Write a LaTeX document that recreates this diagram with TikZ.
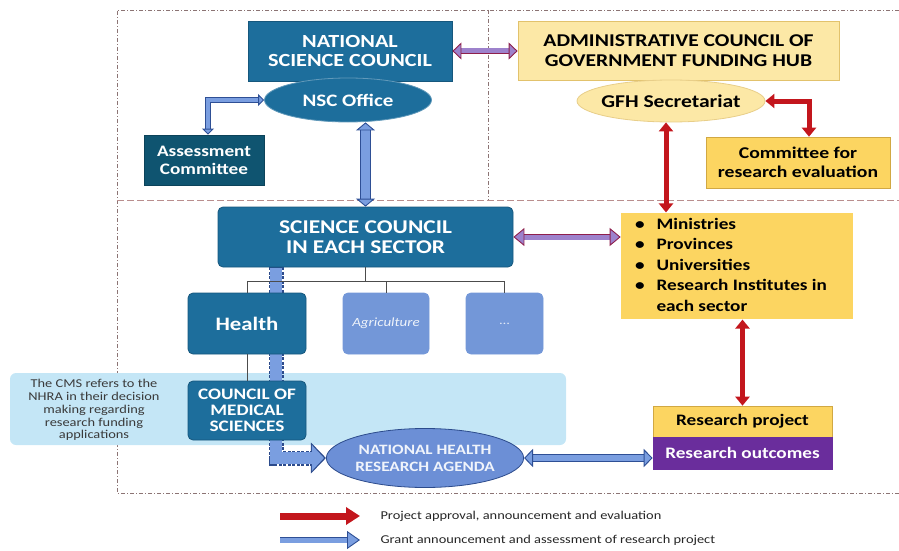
\documentclass[tikz,border=0pt]{standalone}
\usepackage{fontspec}
\setmainfont{Carlito}[FakeStretch=1.2]
\usetikzlibrary{arrows.meta,shapes.geometric,backgrounds,calc}
\definecolor{NSCBlue}{HTML}{1D6E9C}
\definecolor{NSCEdge}{HTML}{16577D}
\definecolor{AssessBlue}{HTML}{0F5470}
\definecolor{SoftBlue}{HTML}{7397D8}
\definecolor{BandBlue}{HTML}{C4E6F6}
\definecolor{AgendaBlue}{HTML}{6C8FD6}
\definecolor{AgendaEdge}{HTML}{2C4B8C}
\definecolor{PaleGold}{HTML}{FCE8A6}
\definecolor{PaleGoldEdge}{HTML}{E2C26C}
\definecolor{Gold}{HTML}{FCD561}
\definecolor{GoldEdge}{HTML}{D1A843}
\definecolor{OutcomePurple}{HTML}{6A2D9C}
\definecolor{ArrRed}{HTML}{C3161D}
\definecolor{ArrBlue}{HTML}{7A9EE0}
\definecolor{ArrBlueEdge}{HTML}{2E4F95}
\definecolor{ArrLav}{HTML}{9D82CC}
\definecolor{ArrMaroon}{HTML}{8E1F4C}
\definecolor{FrameGray}{HTML}{8C7474}
\definecolor{SplitRose}{HTML}{B98E8E}
\definecolor{NoteGray}{HTML}{3A3A3A}

\begin{document}
\begin{tikzpicture}[x=1pt,y=-1pt,
    bx/.style={draw=NSCEdge,fill=NSCBlue,text=white,line width=0.8pt,align=center,inner sep=2pt,font=\bfseries\fontsize{18.5}{19.5}\selectfont},
    yb/.style={draw=PaleGoldEdge,fill=PaleGold,text=black,line width=0.8pt,align=center,inner sep=2pt,font=\bfseries\fontsize{18}{19.5}\selectfont},
    gb/.style={draw=GoldEdge,fill=Gold,text=black,line width=0.6pt,align=center,inner sep=2pt,font=\bfseries\fontsize{16}{17}\selectfont},
    ov/.style={ellipse,inner sep=0pt,line width=0.8pt,align=center},
    tree/.style={draw=black!70,line width=0.9pt},
    bar/.style={draw=ArrBlueEdge,double=ArrBlue,line width=0.9pt},
    pbar/.style={draw=ArrMaroon,double=ArrLav,line width=0.9pt},
    rbar/.style={draw=ArrRed,line width=5pt}]
  \useasboundingbox (0,0) rectangle (899,551);

  % national level
  \node[bx,minimum width=204pt,minimum height=60pt] (nsc) at (350,51) {NATIONAL\\SCIENCE COUNCIL};
  \node[ov,draw=NSCBlue!70,fill=NSCBlue,text=white,minimum width=167pt,minimum height=44pt,font=\bfseries\fontsize{17.5}{18}\selectfont] (nscoff) at (348,100) {NSC Office};
  \node[bx,fill=AssessBlue,draw=AssessBlue!80!black,minimum width=120pt,minimum height=50pt,font=\bfseries\fontsize{16}{18}\selectfont] (assess) at (204,160) {Assessment\\Committee};
  \node[yb,minimum width=321pt,minimum height=59pt] (admin) at (678.5,50.5) {ADMINISTRATIVE COUNCIL OF\\GOVERNMENT FUNDING HUB};
  \node[ov,draw=PaleGoldEdge!80,fill=PaleGold,inner xsep=-6pt,minimum width=188pt,minimum height=42pt,font=\bfseries\fontsize{18}{18}\selectfont] (gfh) at (671,101) {GFH Secretariat};
  \node[gb,minimum width=184pt,minimum height=51pt,font=\bfseries\fontsize{16.4}{19}\selectfont] (cre) at (798,162.5) {Committee for\\research evaluation};

  % sector level
  \node[bx,rounded corners=5pt,minimum width=295pt,minimum height=60pt,font=\bfseries\fontsize{19.5}{20}\selectfont] (sc) at (365.5,237) {SCIENCE COUNCIL\\IN EACH SECTOR};
  \node[gb,draw=none,minimum width=232pt,minimum height=106pt,font=\bfseries\fontsize{16}{20.5}\selectfont] (min) at (737,266)
    {\begin{tabular}{@{}l@{\hspace{12pt}}l@{}}
      \textbullet & Ministries\\
      \textbullet & Provinces\\
      \textbullet & Universities\\
      \textbullet & Research Institutes in\\
                  & each sector
    \end{tabular}\hspace{12pt}};
  \node[bx,rounded corners=5pt,minimum width=118pt,minimum height=61pt,font=\bfseries\fontsize{19}{20}\selectfont] (health) at (247,323.5) {Health};
  \node[bx,draw=SoftBlue,fill=SoftBlue,rounded corners=5pt,minimum width=86pt,minimum height=61pt,text=white!88!SoftBlue,font=\itshape\fontsize{12.5}{13}\selectfont] (agri) at (386,323.5) {Agriculture};
  \node[bx,draw=SoftBlue,fill=SoftBlue,rounded corners=5pt,minimum width=77pt,minimum height=61pt,text=white!80!SoftBlue,font=\fontsize{12}{13}\selectfont] (dots) at (504.5,323.5) {\dots};
  \node[bx,rounded corners=5pt,minimum width=118pt,minimum height=59pt,font=\bfseries\fontsize{16}{16}\selectfont] (cms) at (247,410.5) {COUNCIL OF\\MEDICAL\\SCIENCES};
  \node[text=NoteGray,align=center,font=\fontsize{12}{12.8}\selectfont] (note) at (94,410) {The CMS refers to the\\NHRA in their decision\\making regarding\\research funding\\applications};
  \node[ov,draw=AgendaEdge,fill=AgendaBlue,text=white!90!AgendaBlue,minimum width=194pt,minimum height=59pt,font=\bfseries\fontsize{14.3}{17}\selectfont] (nhra) at (425,458) {NATIONAL HEALTH\\RESEARCH AGENDA};
  \node[gb,minimum width=179pt,minimum height=31pt] (rp) at (742.5,421.5) {Research project};
  \node[gb,draw=OutcomePurple,fill=OutcomePurple,text=white,minimum width=179pt,minimum height=32pt] (ro) at (742.5,453) {Research outcomes};

  % legend
  \coordinate (lr1) at (280,516);
  \coordinate (lr2) at (360,516);
  \coordinate (lb1) at (280,540);
  \coordinate (lb2) at (360,540);
  \node[anchor=west,text=black!85,font=\fontsize{12}{13}\selectfont] (lrt) at (377,516) {Project approval, announcement and evaluation};
  \node[anchor=west,text=black!85,font=\fontsize{12}{13}\selectfont] (lbt) at (377,540) {Grant announcement and assessment of research project};

  % frame, band and the dashed route go underneath
  \begin{scope}[on background layer]
    \draw[draw=FrameGray,line width=0.8pt,dash pattern=on 4pt off 2pt on 1pt off 2pt] (899,10) -- (117,10) -- (117,493) -- (899,493);
    \draw[draw=FrameGray,line width=0.8pt,dash pattern=on 4pt off 2pt on 1pt off 2pt] (488,10) -- (488,200);
    \draw[draw=SplitRose,line width=1pt,dash pattern=on 7pt off 3pt] (117,200) -- (899,200);
    \node[fill=BandBlue,rounded corners=6pt,minimum width=556pt,minimum height=72pt] (band) at (288,409) {};
    \draw[draw=AgendaEdge,line width=15pt,dash pattern=on 3pt off 1.5pt,-{Triangle[length=15pt,width=30pt]}] ([xshift=29pt]health.north |- sc.south) |- (nhra.west);
    \draw[draw=ArrBlue,line width=12pt,shorten >=2pt,-{Triangle[length=12pt,width=25pt]}] ([xshift=29pt,yshift=-1pt]health.north |- sc.south) |- (nhra.west);
  \end{scope}

  % sector tree
  \draw[tree] (sc.south) -- ++(0,14) coordinate (fork);
  \foreach \n in {health,agri,dots}{\draw[tree] (fork) -| (\n.north);}
  \draw[tree] (health.south) -- (cms.north);

  % grant route
  \draw[bar,double distance=4pt,{Triangle[length=6pt,width=12pt,fill=ArrBlue]}-{Triangle[length=6pt,width=12pt,fill=ArrBlue]}] (nscoff.west) -| ([xshift=4pt]assess.north);
  \draw[bar,double distance=9pt,{Triangle[length=8pt,width=19pt,fill=ArrBlue]}-{Triangle[length=8pt,width=19pt,fill=ArrBlue]}] (sc.north |- nscoff.south) -- (sc.north);
  \draw[bar,double distance=6pt,{Triangle[length=9pt,width=18pt,fill=ArrBlue]}-{Triangle[length=9pt,width=18pt,fill=ArrBlue]}] (nhra.east) -- (nhra.east -| ro.west);
  \draw[pbar,double distance=5pt,{Triangle[length=9pt,width=17pt,fill=ArrLav]}-{Triangle[length=9pt,width=17pt,fill=ArrLav]}] (nsc.east) -- (nsc.east -| admin.west);
  \draw[pbar,double distance=5pt,{Triangle[length=11pt,width=18pt,fill=ArrLav]}-{Triangle[length=11pt,width=18pt,fill=ArrLav]}] (sc.east) -- (sc.east -| min.west);

  % approval route
  \draw[rbar,{Triangle[length=9pt,width=14pt]}-{Triangle[length=9pt,width=14pt]}] (gfh.east) -| ([xshift=11pt]cre.north);
  \draw[rbar,{Triangle[length=9pt,width=14pt]}-{Triangle[length=9pt,width=14pt]}] ([xshift=-5pt]gfh.south) -- ([xshift=-5pt]gfh.south |- min.north);
  \draw[rbar,{Triangle[length=9pt,width=14pt]}-{Triangle[length=9pt,width=14pt]}] (rp.north |- min.south) -- (rp.north);

  % legend arrows
  \draw[draw=ArrRed,line width=7pt,-{Triangle[length=14pt,width=17pt]}] (lr1) -- (lr2);
  \draw[bar,double distance=5pt,-{Triangle[length=13pt,width=18pt,fill=ArrBlue]}] (lb1) -- (lb2);
\end{tikzpicture}
\end{document}
